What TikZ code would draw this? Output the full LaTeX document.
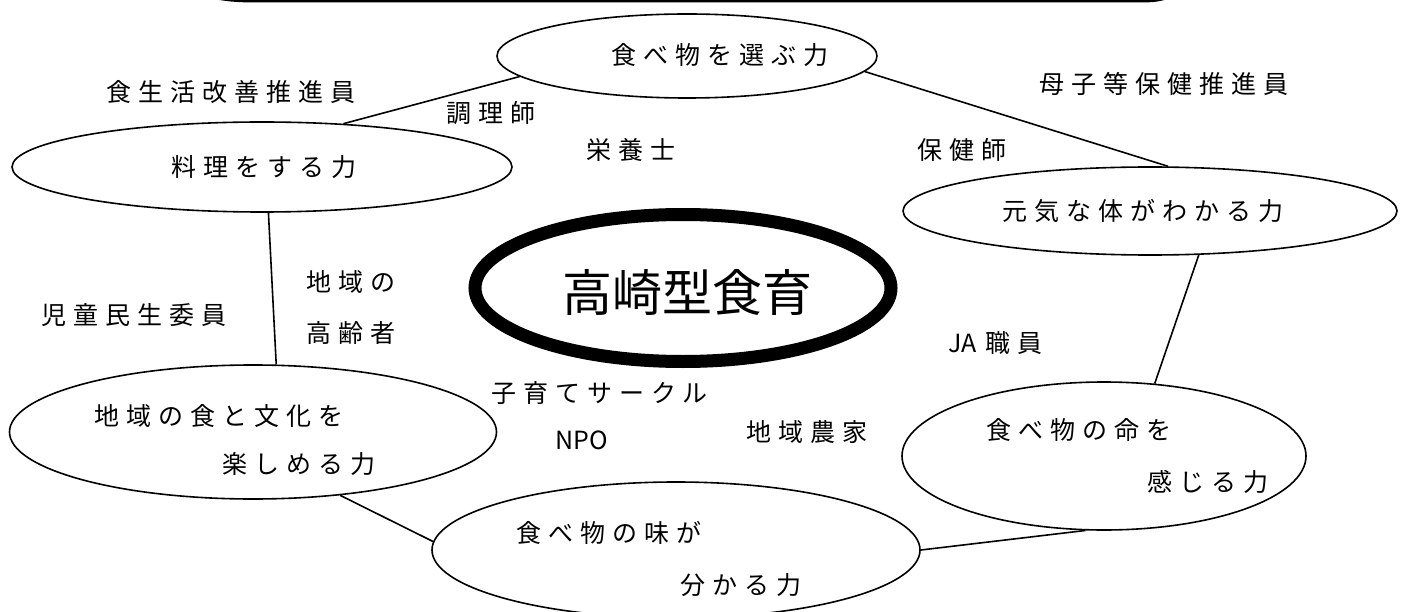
\documentclass[tikz,border=0pt]{standalone}
\usepackage{fontspec}
\setmainfont{Noto Sans CJK JP}
\newfontfamily\jp[LetterSpace=28]{Noto Sans CJK JP}
\newfontfamily\jpn{Noto Sans CJK JP}
\usetikzlibrary{shapes.geometric}
\tikzset{
  oval/.style={ellipse, draw, line width=1.6pt, inner sep=0pt},
  lbl/.style={anchor=west, inner sep=0pt, font=\jp\fontsize{25}{29}\selectfont},
  conn/.style={line width=1.6pt},
}
\begin{document}
\begin{tikzpicture}[x=1pt,y=-1pt]
\useasboundingbox (0,0) rectangle (1412,612);
\fill[white] (0,0) rectangle (1412,612);
\begin{scope}
\clip (0,0) rectangle (1412,612);
\draw[line width=5pt] (188,-8) .. controls (232,0) .. (270,0) -- (1130,0) .. controls (1158,0) .. (1180,-8);
\end{scope}

% ovals
\node[oval, minimum width=380pt, minimum height=84pt] (A) at (687,56) {};
\node[oval, minimum width=500pt, minimum height=90pt] (B) at (262,167) {};
\node[oval, minimum width=494pt, minimum height=88pt] (C) at (1150,211) {};
\node[oval, line width=13pt, minimum width=416pt, minimum height=147pt] (D) at (683,288) {};
\node[oval, minimum width=487pt, minimum height=134pt] (E) at (253,432) {};
\node[oval, minimum width=404pt, minimum height=148pt] (F) at (1104,456) {};
\node[oval, minimum width=488pt, minimum height=136pt] (G) at (676,550) {};

% connectors
\draw[conn] (B.28) -- (A.187);
\draw[conn] (A.-5) -- (C.68);
\draw[conn] (C.-42) -- (F.55);
\draw[conn] (F.256) -- (G.0);
\draw[conn] (E.-36) -- (G.178);
\draw[conn] (B.-82) -- (E.71);

% oval texts
\node[lbl] (tA) at (611,55) {食べ物を選ぶ力};
\node[lbl] (tB) at (171,167) {料理をする力};
\node[lbl] (tC) at (1002,211) {元気な体がわかる力};
\node[inner sep=0pt, font=\jpn\fontsize{50}{56}\selectfont] (tD) at (687,292) {高崎型食育};
\node[lbl] (tE1) at (94,416) {地域の食と文化を};
\node[lbl] (tE2) at (222,464) {楽しめる力};
\node[lbl] (tF1) at (986,430) {食べ物の命を};
\node[lbl] (tF2) at (1147,482) {感じる力};
\node[lbl] (tG1) at (516,533) {食べ物の味が};
\node[lbl] (tG2) at (680,585) {分かる力};

% free labels
\node[lbl] (l1) at (106,92) {食生活改善推進員};
\node[lbl] (l2) at (446,113) {調理師};
\node[lbl] (l3) at (586,150) {栄養士};
\node[lbl] (l4) at (917,150) {保健師};
\node[lbl] (l5) at (1039,84) {母子等保健推進員};
\node[lbl] (l6a) at (306,282) {地域の};
\node[lbl] (l6b) at (306,333) {高齢者};
\node[lbl] (l7) at (41,315) {児童民生委員};
\node[lbl] (l8) at (948,343) {\jpn JA\hspace{9pt}\jp 職員};
\node[lbl] (l9) at (491,393) {子育てサークル};
\node[lbl, font=\jpn\fontsize{25}{29}\selectfont] (l10) at (555,440) {NPO};
\node[lbl] (l11) at (746,432) {地域農家};
\end{tikzpicture}
\end{document}
